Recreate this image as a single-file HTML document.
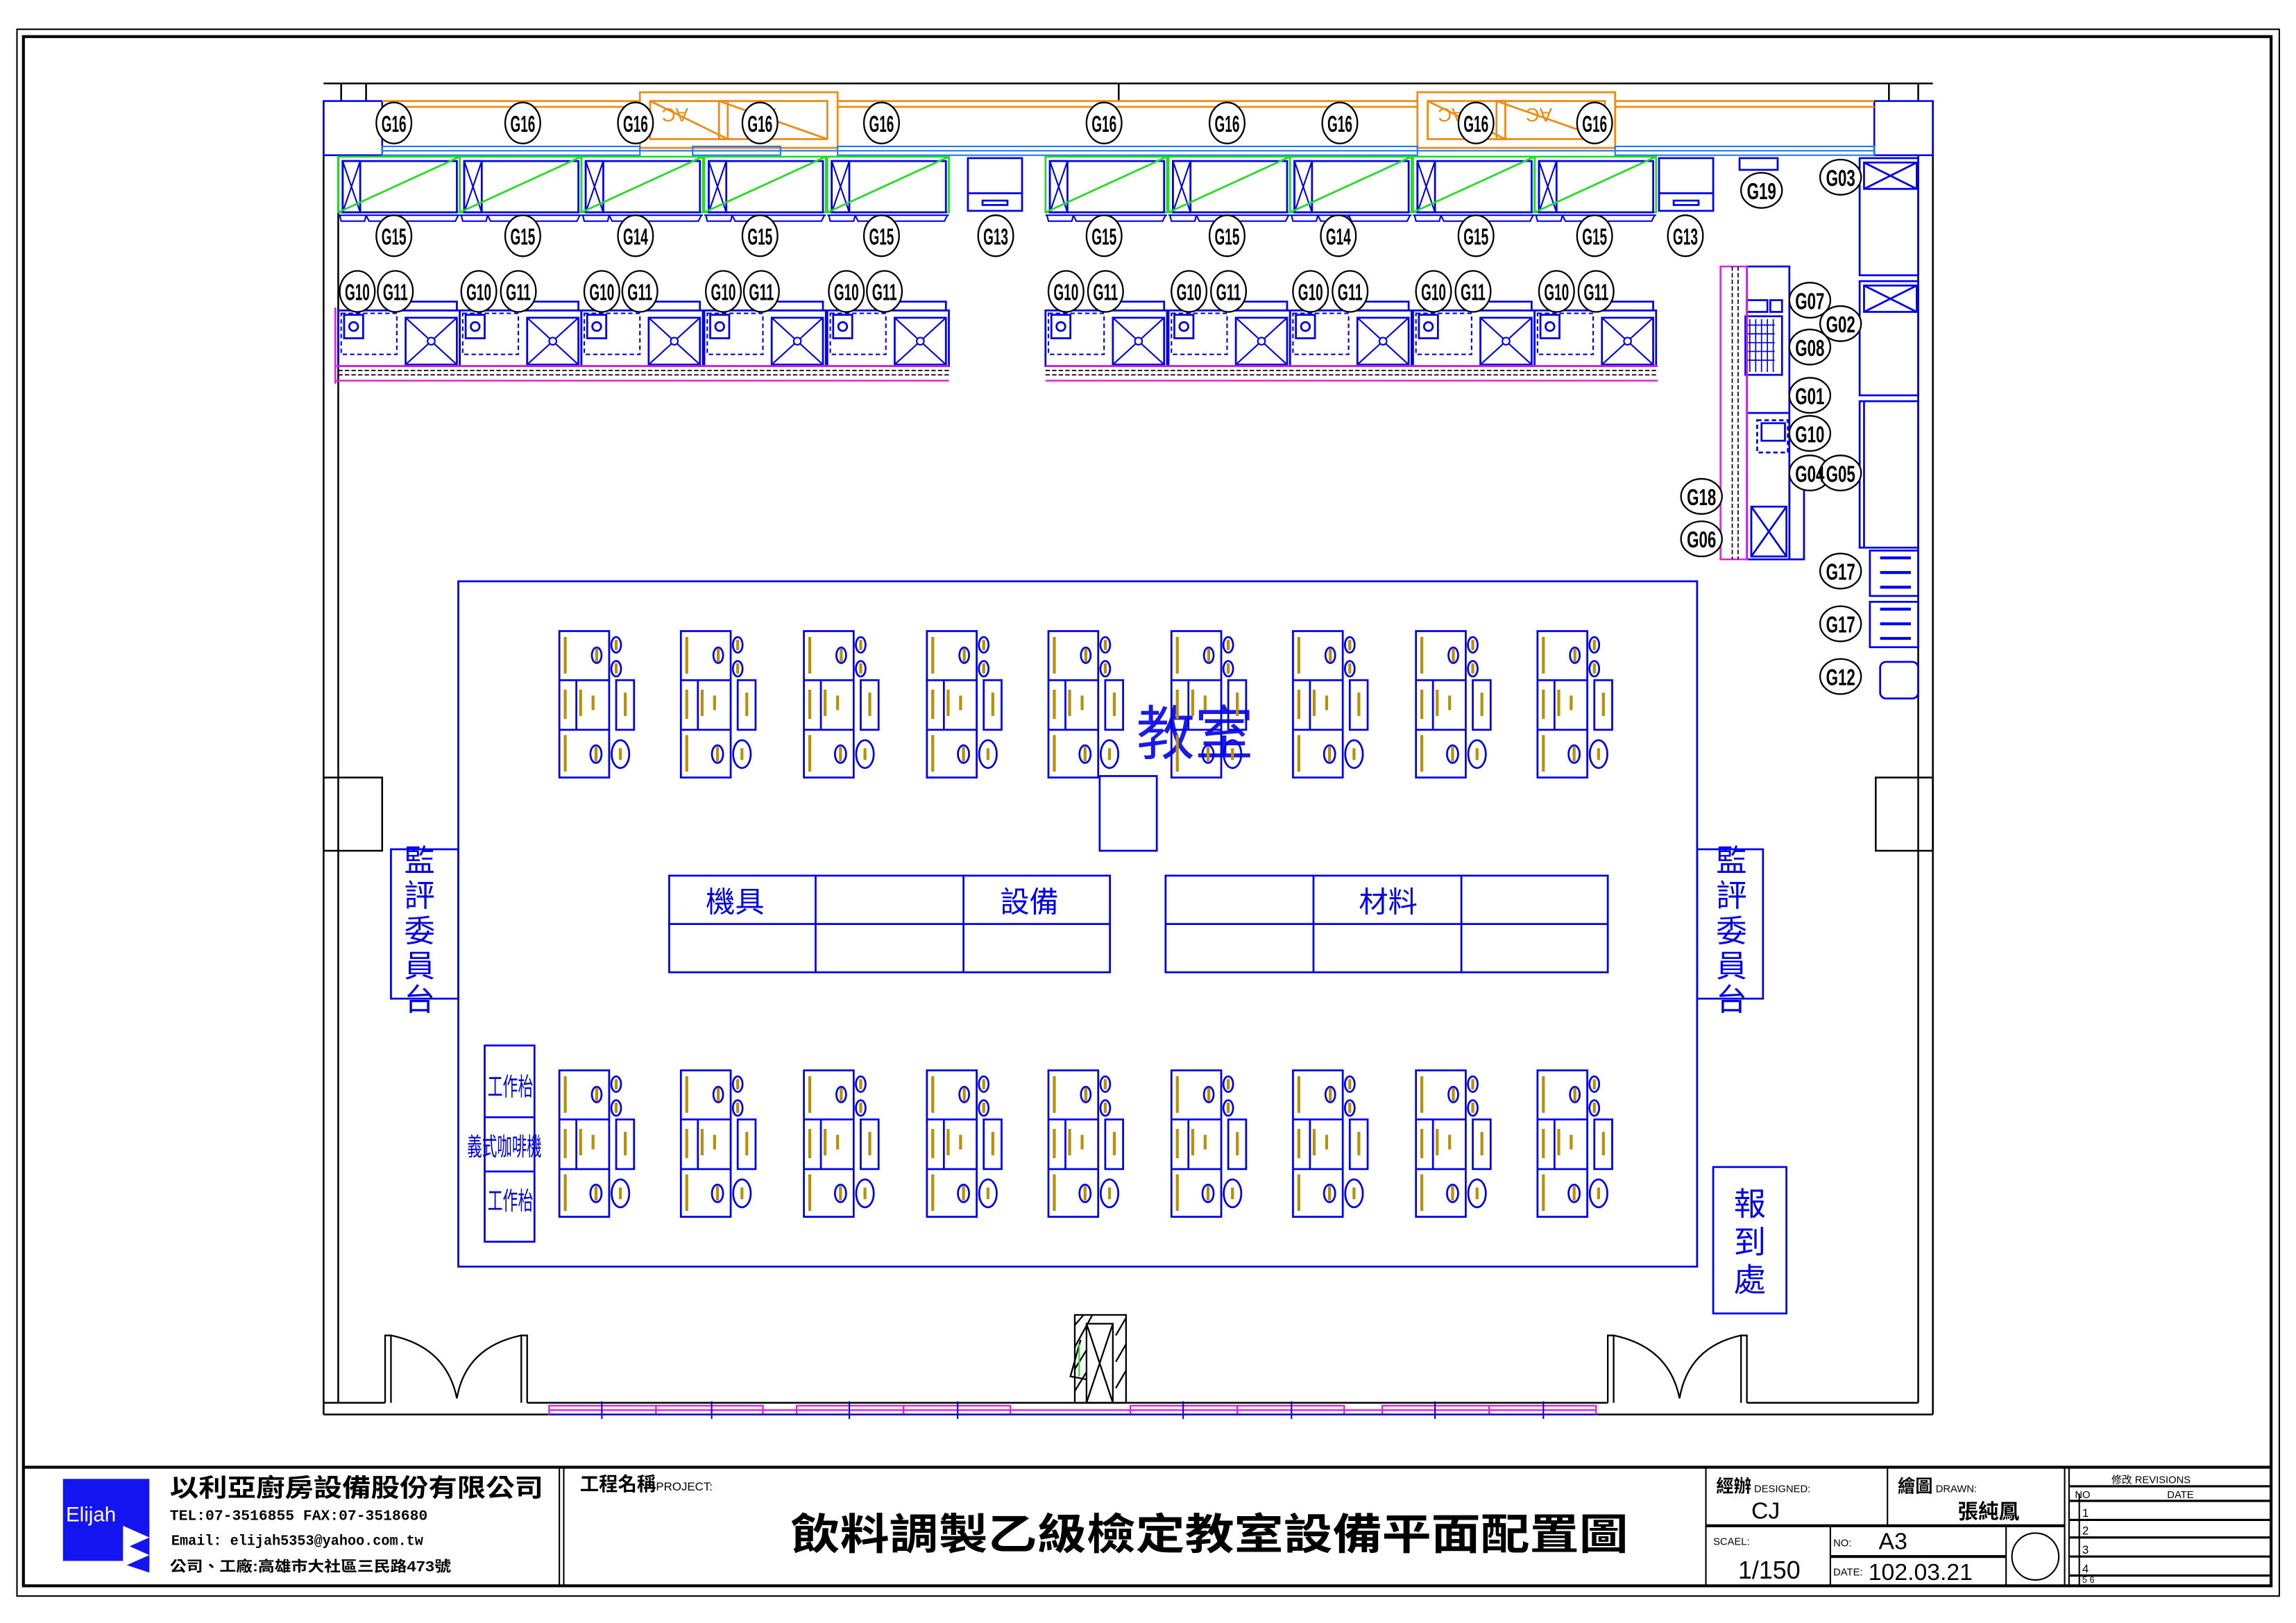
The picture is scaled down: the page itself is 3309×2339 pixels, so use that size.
<!DOCTYPE html>
<html><head><meta charset="utf-8">
<style>
html,body{margin:0;padding:0;background:#fff;}
svg{display:block;}
.lb{font-family:"Liberation Sans",sans-serif;font-weight:bold;font-size:16px;fill:#000;}
.cj{font-family:"Liberation Sans","Noto Sans CJK TC",sans-serif;}
.ga ellipse{rx:12px;ry:14px;}
.gb ellipse{rx:14px;ry:12px;}
</style></head>
<body>
<svg width="3309" height="2339" viewBox="0 0 1568 1108.4" preserveAspectRatio="none" xmlns="http://www.w3.org/2000/svg">
<defs>
<g id="desk" fill="none" stroke="#0000ee" stroke-width="1.3">
  <rect x="0" y="0" width="34" height="100"/>
  <line x1="0" y1="33.5" x2="34" y2="33.5"/>
  <line x1="0" y1="67.4" x2="34" y2="67.4"/>
  <line x1="11.6" y1="33.5" x2="11.6" y2="67.4"/>
  <ellipse cx="38.8" cy="9.4" rx="3.3" ry="5.3"/>
  <ellipse cx="38.8" cy="25.7" rx="3.3" ry="5.3"/>
  <ellipse cx="25.5" cy="16.5" rx="3.3" ry="5.3"/>
  <rect x="38.8" y="33.5" width="12.2" height="33.9"/>
  <ellipse cx="41.7" cy="84" rx="6" ry="9.5"/>
  <ellipse cx="25" cy="84" rx="3.8" ry="6"/>
  <g stroke="none" fill="#b8900a">
    <rect x="3" y="4" width="2" height="25"/>
    <rect x="24.5" y="12" width="2" height="9"/>
    <rect x="37.8" y="6" width="2" height="7"/>
    <rect x="37.8" y="22" width="2" height="7"/>
    <rect x="3" y="40" width="2" height="20"/>
    <rect x="13.5" y="40" width="2" height="18"/>
    <rect x="22" y="44" width="2" height="10"/>
    <rect x="44" y="42" width="2" height="16"/>
    <rect x="3" y="71" width="2" height="25"/>
    <rect x="24" y="79" width="2" height="10"/>
    <rect x="40.7" y="80" width="2" height="8"/>
  </g>
</g>
<g id="top" fill="none">
  <rect x="0" y="0" width="83" height="38" stroke="#22dd22" stroke-width="1.3"/>
  <rect x="3" y="3" width="78" height="35" stroke="#0000ee" stroke-width="1.3"/>
  <rect x="3" y="3" width="12" height="35" stroke="#0000ee" stroke-width="1.3"/>
  <path d="M3 3 L15 38 M15 3 L3 38" stroke="#0000ee" stroke-width="1"/>
  <line x1="0" y1="38" x2="83" y2="0" stroke="#22dd22" stroke-width="1.3"/>
  <path d="M0 40 H83 M1 40 L2 44 H18 L19 40 M19 40 L21 44 H38 L40 40 M40 40 L42 44 H80 L82 40" stroke="#0000ee" stroke-width="1"/>
</g>
<g id="low" fill="none" stroke="#0000ee">
  <rect x="0" y="0" width="83" height="38" stroke-width="1.3"/>
  <rect x="44" y="-6" width="37" height="6" stroke-width="1.3"/>
  <rect x="2" y="2" width="38" height="28" stroke-dasharray="3 2" stroke-width="1"/>
  <rect x="4" y="3" width="13" height="16" stroke-width="1.3"/>
  <circle cx="10.5" cy="11" r="3" stroke-width="1.3"/>
  <rect x="46" y="5" width="35" height="32" stroke-width="1.3"/>
  <path d="M46 5 L81 37 M81 5 L46 37" stroke-width="1"/>
  <circle cx="63.5" cy="21" r="2.5" fill="#fff"/>
</g>
</defs>

<rect x="11.6" y="20" width="1545" height="1070" fill="none" stroke="#000" stroke-width="1"/>
<rect x="16" y="25" width="1535" height="1058" fill="none" stroke="#000" stroke-width="2"/>

<g fill="none" stroke="#000" stroke-width="1.2">
  <line x1="221" y1="57" x2="1320" y2="57"/>
  <line x1="221" y1="69" x2="221" y2="966"/>
  <line x1="231" y1="106" x2="231" y2="958"/>
  <line x1="1320" y1="69" x2="1320" y2="966"/>
  <line x1="1310" y1="106" x2="1310" y2="958"/>
  <line x1="233" y1="57" x2="233" y2="69"/><line x1="250" y1="57" x2="250" y2="69"/>
  <line x1="764" y1="57" x2="764" y2="69"/>
  <line x1="1290" y1="57" x2="1290" y2="69"/><line x1="1310" y1="57" x2="1310" y2="69"/>
  <line x1="221" y1="966" x2="1320" y2="966"/>
  <line x1="221" y1="958" x2="263" y2="958"/>
  <line x1="360" y1="958" x2="1098" y2="958"/>
  <line x1="1193" y1="958" x2="1310" y2="958"/>
  <rect x="221" y="531" width="40" height="50"/>
  <rect x="1281" y="531" width="39" height="50"/>
</g>
<g fill="none" stroke="#0000ee" stroke-width="1.2">
  <rect x="221" y="69" width="40" height="37"/>
  <rect x="1280" y="69" width="40" height="37"/>
</g>
<g fill="none" stroke="#f08a10" stroke-width="1.3">
  <line x1="261" y1="69" x2="437" y2="69"/><line x1="261" y1="73" x2="437" y2="73"/>
  <line x1="572" y1="69" x2="968" y2="69"/><line x1="572" y1="73" x2="968" y2="73"/>
  <line x1="1103" y1="69" x2="1280" y2="69"/><line x1="1103" y1="73" x2="1280" y2="73"/>
  <rect x="437" y="63" width="135" height="38"/>
  <rect x="444" y="69" width="53" height="26"/><line x1="444" y1="69" x2="497" y2="95"/>
  <rect x="491" y="69" width="74" height="26"/><line x1="491" y1="69" x2="565" y2="95"/>
  <rect x="968" y="63" width="135" height="38"/>
  <rect x="975" y="69" width="53" height="26"/><line x1="975" y1="69" x2="1028" y2="95"/>
  <rect x="1022" y="69" width="74" height="26"/><line x1="1022" y1="69" x2="1096" y2="95"/>
  <text x="470" y="82" font-size="13" fill="#f08a10" stroke="none" font-family="Liberation Sans" transform="rotate(180 470 78)">AC</text>
  <text x="530" y="82" font-size="13" fill="#f08a10" stroke="none" font-family="Liberation Sans" transform="rotate(180 530 78)">AC</text>
  <text x="1000" y="82" font-size="13" fill="#f08a10" stroke="none" font-family="Liberation Sans" transform="rotate(180 1000 78)">AC</text>
  <text x="1060" y="82" font-size="13" fill="#f08a10" stroke="none" font-family="Liberation Sans" transform="rotate(180 1060 78)">AC</text>
</g>
<g fill="none" stroke="#1e78ff" stroke-width="1">
  <rect x="261" y="100" width="176" height="6"/><rect x="572" y="100" width="396" height="6"/><rect x="1103" y="100" width="177" height="6"/>
  <rect x="473" y="100" width="60" height="6"/>
  <line x1="261" y1="103" x2="1280" y2="103"/>
</g>
<use href="#top" x="231" y="107"/><use href="#top" x="314" y="107"/><use href="#top" x="397" y="107"/><use href="#top" x="481" y="107"/><use href="#top" x="565" y="107"/>
<use href="#top" x="714" y="107"/><use href="#top" x="798" y="107"/><use href="#top" x="881" y="107"/><use href="#top" x="965" y="107"/><use href="#top" x="1048" y="107"/>
<g fill="none" stroke="#0000ee" stroke-width="1.3">
  <rect x="661" y="108" width="37" height="36"/><line x1="661" y1="132" x2="698" y2="132"/><rect x="671" y="137" width="17" height="3"/>
  <rect x="1133" y="108" width="37" height="36"/><line x1="1133" y1="132" x2="1170" y2="132"/><rect x="1143" y="137" width="17" height="3"/>
  <rect x="1188" y="108" width="26" height="8"/>
</g>
<use href="#low" x="231" y="212"/><use href="#low" x="314" y="212"/><use href="#low" x="397" y="212"/><use href="#low" x="481" y="212"/><use href="#low" x="565" y="212"/>
<use href="#low" x="714" y="212"/><use href="#low" x="798" y="212"/><use href="#low" x="881" y="212"/><use href="#low" x="965" y="212"/><use href="#low" x="1048" y="212"/>
<g fill="none" stroke-width="1.2">
  <line x1="229" y1="250" x2="648" y2="250" stroke="#dd22dd"/><line x1="229" y1="260" x2="648" y2="260" stroke="#dd22dd"/><line x1="229" y1="210" x2="229" y2="262" stroke="#dd22dd"/>
  <line x1="231" y1="253" x2="648" y2="253" stroke="#000" stroke-dasharray="3 1.5" stroke-width="0.8"/><line x1="231" y1="256" x2="648" y2="256" stroke="#000" stroke-dasharray="3 1.5" stroke-width="0.8"/>
  <line x1="714" y1="250" x2="1132" y2="250" stroke="#dd22dd"/><line x1="714" y1="260" x2="1132" y2="260" stroke="#dd22dd"/>
  <line x1="714" y1="253" x2="1132" y2="253" stroke="#000" stroke-dasharray="3 1.5" stroke-width="0.8"/><line x1="714" y1="256" x2="1132" y2="256" stroke="#000" stroke-dasharray="3 1.5" stroke-width="0.8"/>
</g>
<g fill="none" stroke="#0000ee" stroke-width="1.3">
  <rect x="1270" y="108" width="40" height="80"/><rect x="1273" y="111" width="36" height="18"/><path d="M1273 111 L1309 129 M1309 111 L1273 129"/>
  <rect x="1270" y="192" width="40" height="78"/><rect x="1273" y="195" width="36" height="18"/><path d="M1273 195 L1309 213 M1309 195 L1273 213"/>
  <rect x="1270" y="274" width="40" height="100"/><line x1="1273" y1="274" x2="1273" y2="374"/>
  <rect x="1193" y="182" width="29" height="200"/><line x1="1193" y1="282" x2="1222" y2="282"/>
  <rect x="1192" y="216" width="25" height="40"/>
  <path d="M1195 218 V254 M1199 218 V254 M1203 218 V254 M1207 218 V254 M1211 218 V254 M1192 222 H1212 M1192 228 H1212 M1192 234 H1212 M1192 240 H1212 M1192 246 H1212" stroke-width="0.8"/>
  <rect x="1193" y="205" width="14" height="8"/><rect x="1209" y="205" width="8" height="8"/>
  <rect x="1200" y="287" width="21" height="22" stroke-dasharray="3 2"/><rect x="1203" y="289" width="16" height="12"/>
  <rect x="1196" y="346" width="24" height="34"/><path d="M1196 346 L1220 380 M1220 346 L1196 380"/>
  <rect x="1222" y="325" width="10" height="57"/>
  <rect x="1277" y="376" width="33" height="31"/><rect x="1277" y="411" width="33" height="31"/>
  <path d="M1284 381 H1305 M1284 391 H1305 M1284 401 H1305 M1284 416 H1305 M1284 426 H1305 M1284 436 H1305" stroke-width="2"/>
  <rect x="1284" y="452" width="26" height="25" rx="4"/>
</g>
<g fill="none" stroke="#dd22dd" stroke-width="1.2"><rect x="1175" y="182" width="18" height="200"/></g>
<g stroke="#000" stroke-width="0.8" stroke-dasharray="3 1.5"><line x1="1183" y1="182" x2="1183" y2="382"/><line x1="1187" y1="182" x2="1187" y2="382"/></g>

<g fill="none" stroke="#0000ee" stroke-width="1.3">
  <rect x="313" y="397" width="846" height="468"/>
  <rect x="751" y="530" width="39" height="51"/>
  <rect x="267" y="580" width="46" height="102"/>
  <rect x="1159" y="580" width="45" height="102"/>
  <rect x="331" y="714" width="34" height="134"/><line x1="331" y1="763" x2="365" y2="763"/><line x1="331" y1="800" x2="365" y2="800"/>
  <rect x="1170" y="797" width="50" height="100"/>
  <rect x="457" y="598" width="301" height="66"/><line x1="457" y1="631" x2="758" y2="631"/><line x1="557" y1="598" x2="557" y2="664"/><line x1="658" y1="598" x2="658" y2="664"/>
  <rect x="796" y="598" width="302" height="66"/><line x1="796" y1="631" x2="1098" y2="631"/><line x1="897" y1="598" x2="897" y2="664"/><line x1="998" y1="598" x2="998" y2="664"/>
</g>
<g class="cj" fill="#0000ee" font-size="20">
  <text x="482" y="623">機具</text><text x="683" y="623">設備</text><text x="928" y="623">材料</text>
  <text x="776" y="515" font-size="40" fill="#1a1ae8">教室</text>
  <text x="276" y="595" font-size="21">監</text><text x="276" y="619" font-size="21">評</text><text x="276" y="643" font-size="21">委</text><text x="276" y="667" font-size="21">員</text><text x="276" y="690" font-size="21">台</text>
  <text x="1172" y="595" font-size="21">監</text><text x="1172" y="619" font-size="21">評</text><text x="1172" y="643" font-size="21">委</text><text x="1172" y="667" font-size="21">員</text><text x="1172" y="690" font-size="21">台</text>
  <text x="1184" y="830" font-size="22">報</text><text x="1184" y="856" font-size="22">到</text><text x="1184" y="882" font-size="22">處</text>
  <text x="333" y="748" font-size="17" textLength="31" lengthAdjust="spacingAndGlyphs">工作枱</text>
  <text x="333" y="826" font-size="17" textLength="31" lengthAdjust="spacingAndGlyphs">工作枱</text>
  <text x="319" y="789" font-size="17" textLength="51" lengthAdjust="spacingAndGlyphs">義式咖啡機</text>
</g>
<use href="#desk" x="382" y="431"/><use href="#desk" x="465" y="431"/><use href="#desk" x="549" y="431"/><use href="#desk" x="633" y="431"/><use href="#desk" x="716" y="431"/><use href="#desk" x="800" y="431"/><use href="#desk" x="883" y="431"/><use href="#desk" x="967" y="431"/><use href="#desk" x="1050" y="431"/>
<use href="#desk" x="382" y="731"/><use href="#desk" x="465" y="731"/><use href="#desk" x="549" y="731"/><use href="#desk" x="633" y="731"/><use href="#desk" x="716" y="731"/><use href="#desk" x="800" y="731"/><use href="#desk" x="883" y="731"/><use href="#desk" x="967" y="731"/><use href="#desk" x="1050" y="731"/>

<g fill="none" stroke="#000" stroke-width="1.1">
  <path d="M263 958 V912 H267 V958 M356 958 V912 H360 V958"/>
  <path d="M267 912 Q305 920 312 955 Q318 920 356 912"/>
  <path d="M1098 958 V912 H1102 V958 M1189 958 V912 H1193 V958"/>
  <path d="M1102 912 Q1140 920 1147 955 Q1153 920 1189 912"/>
  <rect x="734" y="898" width="35" height="60"/><rect x="742" y="904" width="18" height="54"/>
  <path d="M734 905 L740 898 M734 920 L746 898 M734 935 L742 922 M734 950 L742 937 M762 912 L769 900 M762 930 L769 918 M762 948 L769 936 M742 904 L760 958 M760 904 L742 958 M738 915 L731 940 L742 942"/>
</g>
<line x1="737" y1="918" x2="737" y2="940" stroke="#22dd22"/>
<g fill="none" stroke="#dd22dd" stroke-width="1.1">
  <rect x="375" y="960" width="73" height="6"/><rect x="448" y="960" width="73" height="6"/><rect x="544" y="960" width="73" height="6"/><rect x="617" y="960" width="73" height="6"/>
  <rect x="772" y="960" width="73" height="6"/><rect x="845" y="960" width="73" height="6"/><rect x="944" y="960" width="73" height="6"/><rect x="1017" y="960" width="73" height="6"/>
  <line x1="375" y1="963" x2="1090" y2="963"/>
</g>
<g stroke="#0000ee" stroke-width="1"><line x1="375" y1="966" x2="1090" y2="966"/>
<path d="M411 957 V969 M486 957 V969 M580 957 V969 M654 957 V969 M808 957 V969 M882 957 V969 M980 957 V969 M1054 957 V969"/></g>

<g fill="#fff" stroke="#000" stroke-width="1.1" class="ga">
<ellipse cx="269" cy="84" rx="12" ry="14"/><ellipse cx="357" cy="84" rx="12" ry="14"/><ellipse cx="434" cy="84" rx="12" ry="14"/><ellipse cx="519" cy="84" rx="12" ry="14"/><ellipse cx="602" cy="84" rx="12" ry="14"/><ellipse cx="754" cy="84" rx="12" ry="14"/><ellipse cx="838" cy="84" rx="12" ry="14"/><ellipse cx="915" cy="84" rx="12" ry="14"/><ellipse cx="1008" cy="84" rx="12" ry="14"/><ellipse cx="1089" cy="84" rx="12" ry="14"/>
<ellipse cx="269" cy="161" rx="12" ry="14"/><ellipse cx="357" cy="161" rx="12" ry="14"/><ellipse cx="434" cy="161" rx="12" ry="14"/><ellipse cx="519" cy="161" rx="12" ry="14"/><ellipse cx="602" cy="161" rx="12" ry="14"/><ellipse cx="680" cy="161" rx="12" ry="14"/><ellipse cx="754" cy="161" rx="12" ry="14"/><ellipse cx="838" cy="161" rx="12" ry="14"/><ellipse cx="914" cy="161" rx="12" ry="14"/><ellipse cx="1008" cy="161" rx="12" ry="14"/><ellipse cx="1089" cy="161" rx="12" ry="14"/><ellipse cx="1151" cy="161" rx="12" ry="14"/>
<ellipse cx="244" cy="199" rx="12" ry="14"/><ellipse cx="270" cy="199" rx="12" ry="14"/><ellipse cx="327" cy="199" rx="12" ry="14"/><ellipse cx="354" cy="199" rx="12" ry="14"/><ellipse cx="411" cy="199" rx="12" ry="14"/><ellipse cx="437" cy="199" rx="12" ry="14"/><ellipse cx="494" cy="199" rx="12" ry="14"/><ellipse cx="520" cy="199" rx="12" ry="14"/><ellipse cx="578" cy="199" rx="12" ry="14"/><ellipse cx="604" cy="199" rx="12" ry="14"/>
<ellipse cx="728" cy="199" rx="12" ry="14"/><ellipse cx="755" cy="199" rx="12" ry="14"/><ellipse cx="812" cy="199" rx="12" ry="14"/><ellipse cx="839" cy="199" rx="12" ry="14"/><ellipse cx="895" cy="199" rx="12" ry="14"/><ellipse cx="922" cy="199" rx="12" ry="14"/><ellipse cx="979" cy="199" rx="12" ry="14"/><ellipse cx="1006" cy="199" rx="12" ry="14"/><ellipse cx="1063" cy="199" rx="12" ry="14"/><ellipse cx="1090" cy="199" rx="12" ry="14"/>
</g>
<g fill="#fff" stroke="#000" stroke-width="1.1" class="gb">
<ellipse cx="1257" cy="121" rx="14" ry="12"/><ellipse cx="1203" cy="130" rx="14" ry="12"/><ellipse cx="1236" cy="205" rx="14" ry="12"/><ellipse cx="1257" cy="221" rx="14" ry="12"/><ellipse cx="1236" cy="237" rx="14" ry="12"/><ellipse cx="1236" cy="270" rx="14" ry="12"/><ellipse cx="1236" cy="296" rx="14" ry="12"/><ellipse cx="1236" cy="323" rx="14" ry="12"/><ellipse cx="1257" cy="323" rx="14" ry="12"/><ellipse cx="1162" cy="339" rx="14" ry="12"/><ellipse cx="1162" cy="368" rx="14" ry="12"/><ellipse cx="1257" cy="390" rx="14" ry="12"/><ellipse cx="1257" cy="426" rx="14" ry="12"/><ellipse cx="1257" cy="462" rx="14" ry="12"/>
</g>
<g class="lb" text-anchor="middle">
<text x="269" y="90" textLength="17" lengthAdjust="spacingAndGlyphs">G16</text><text x="357" y="90" textLength="17" lengthAdjust="spacingAndGlyphs">G16</text><text x="434" y="90" textLength="17" lengthAdjust="spacingAndGlyphs">G16</text><text x="519" y="90" textLength="17" lengthAdjust="spacingAndGlyphs">G16</text><text x="602" y="90" textLength="17" lengthAdjust="spacingAndGlyphs">G16</text><text x="754" y="90" textLength="17" lengthAdjust="spacingAndGlyphs">G16</text><text x="838" y="90" textLength="17" lengthAdjust="spacingAndGlyphs">G16</text><text x="915" y="90" textLength="17" lengthAdjust="spacingAndGlyphs">G16</text><text x="1008" y="90" textLength="17" lengthAdjust="spacingAndGlyphs">G16</text><text x="1089" y="90" textLength="17" lengthAdjust="spacingAndGlyphs">G16</text>
<text x="269" y="167" textLength="17" lengthAdjust="spacingAndGlyphs">G15</text><text x="357" y="167" textLength="17" lengthAdjust="spacingAndGlyphs">G15</text><text x="434" y="167" textLength="17" lengthAdjust="spacingAndGlyphs">G14</text><text x="519" y="167" textLength="17" lengthAdjust="spacingAndGlyphs">G15</text><text x="602" y="167" textLength="17" lengthAdjust="spacingAndGlyphs">G15</text><text x="680" y="167" textLength="17" lengthAdjust="spacingAndGlyphs">G13</text><text x="754" y="167" textLength="17" lengthAdjust="spacingAndGlyphs">G15</text><text x="838" y="167" textLength="17" lengthAdjust="spacingAndGlyphs">G15</text><text x="914" y="167" textLength="17" lengthAdjust="spacingAndGlyphs">G14</text><text x="1008" y="167" textLength="17" lengthAdjust="spacingAndGlyphs">G15</text><text x="1089" y="167" textLength="17" lengthAdjust="spacingAndGlyphs">G15</text><text x="1151" y="167" textLength="17" lengthAdjust="spacingAndGlyphs">G13</text>
<text x="244" y="205" textLength="17" lengthAdjust="spacingAndGlyphs">G10</text><text x="270" y="205" textLength="17" lengthAdjust="spacingAndGlyphs">G11</text><text x="327" y="205" textLength="17" lengthAdjust="spacingAndGlyphs">G10</text><text x="354" y="205" textLength="17" lengthAdjust="spacingAndGlyphs">G11</text><text x="411" y="205" textLength="17" lengthAdjust="spacingAndGlyphs">G10</text><text x="437" y="205" textLength="17" lengthAdjust="spacingAndGlyphs">G11</text><text x="494" y="205" textLength="17" lengthAdjust="spacingAndGlyphs">G10</text><text x="520" y="205" textLength="17" lengthAdjust="spacingAndGlyphs">G11</text><text x="578" y="205" textLength="17" lengthAdjust="spacingAndGlyphs">G10</text><text x="604" y="205" textLength="17" lengthAdjust="spacingAndGlyphs">G11</text>
<text x="728" y="205" textLength="17" lengthAdjust="spacingAndGlyphs">G10</text><text x="755" y="205" textLength="17" lengthAdjust="spacingAndGlyphs">G11</text><text x="812" y="205" textLength="17" lengthAdjust="spacingAndGlyphs">G10</text><text x="839" y="205" textLength="17" lengthAdjust="spacingAndGlyphs">G11</text><text x="895" y="205" textLength="17" lengthAdjust="spacingAndGlyphs">G10</text><text x="922" y="205" textLength="17" lengthAdjust="spacingAndGlyphs">G11</text><text x="979" y="205" textLength="17" lengthAdjust="spacingAndGlyphs">G10</text><text x="1006" y="205" textLength="17" lengthAdjust="spacingAndGlyphs">G11</text><text x="1063" y="205" textLength="17" lengthAdjust="spacingAndGlyphs">G10</text><text x="1090" y="205" textLength="17" lengthAdjust="spacingAndGlyphs">G11</text>
<text x="1257" y="127" textLength="20" lengthAdjust="spacingAndGlyphs">G03</text><text x="1203" y="136" textLength="20" lengthAdjust="spacingAndGlyphs">G19</text><text x="1236" y="211" textLength="20" lengthAdjust="spacingAndGlyphs">G07</text><text x="1257" y="227" textLength="20" lengthAdjust="spacingAndGlyphs">G02</text><text x="1236" y="243" textLength="20" lengthAdjust="spacingAndGlyphs">G08</text><text x="1236" y="276" textLength="20" lengthAdjust="spacingAndGlyphs">G01</text><text x="1236" y="302" textLength="20" lengthAdjust="spacingAndGlyphs">G10</text><text x="1236" y="329" textLength="20" lengthAdjust="spacingAndGlyphs">G04</text><text x="1257" y="329" textLength="20" lengthAdjust="spacingAndGlyphs">G05</text><text x="1162" y="345" textLength="20" lengthAdjust="spacingAndGlyphs">G18</text><text x="1162" y="374" textLength="20" lengthAdjust="spacingAndGlyphs">G06</text><text x="1257" y="396" textLength="20" lengthAdjust="spacingAndGlyphs">G17</text><text x="1257" y="432" textLength="20" lengthAdjust="spacingAndGlyphs">G17</text><text x="1257" y="468" textLength="20" lengthAdjust="spacingAndGlyphs">G12</text>
</g>

<g fill="none" stroke="#000">
  <line x1="16" y1="1002" x2="1551" y2="1002" stroke-width="2"/>
  <line x1="382" y1="1002" x2="382" y2="1083" stroke-width="1"/><line x1="385" y1="1002" x2="385" y2="1083" stroke-width="1"/>
  <line x1="1165" y1="1002" x2="1165" y2="1083" stroke-width="1"/>
  <line x1="1289" y1="1002" x2="1289" y2="1042" stroke-width="1"/>
  <line x1="1165" y1="1042" x2="1410" y2="1042" stroke-width="2"/>
  <line x1="1250" y1="1042" x2="1250" y2="1083" stroke-width="1"/>
  <line x1="1250" y1="1063" x2="1370" y2="1063" stroke-width="2"/>
  <line x1="1370" y1="1042" x2="1370" y2="1083" stroke-width="1"/>
  <circle cx="1390" cy="1063" r="16" stroke-width="1"/>
  <line x1="1410" y1="1002" x2="1410" y2="1083" stroke-width="1"/><line x1="1413" y1="1002" x2="1413" y2="1083" stroke-width="1"/>
  <line x1="1420" y1="1020" x2="1420" y2="1083" stroke-width="1"/>
  <line x1="1413" y1="1015" x2="1551" y2="1015" stroke-width="1.5"/>
  <line x1="1413" y1="1025" x2="1551" y2="1025" stroke-width="1.5"/>
  <line x1="1413" y1="1038" x2="1551" y2="1038" stroke-width="1.5"/>
  <line x1="1413" y1="1050" x2="1551" y2="1050" stroke-width="1.5"/>
  <line x1="1413" y1="1063" x2="1551" y2="1063" stroke-width="1.5"/>
  <line x1="1413" y1="1076" x2="1551" y2="1076" stroke-width="1.5"/>
</g>
<rect x="43" y="1010" width="59" height="56" fill="#1414f0"/>
<path d="M84 1045 L102 1040 V1048 L84 1053 Z M84 1055 L102 1050 V1058 L84 1063 Z M84 1065 L102 1060 V1074 L84 1068 Z" fill="#1414f0"/>
<path d="M84 1042 L102 1050 L84 1058 Z M84 1054 L102 1062 L84 1070 Z" fill="#fff"/>
<text x="45" y="1039" font-family="Liberation Sans" font-size="14" fill="#fff">Elijah</text>
<g class="cj" fill="#000">
  <text x="116" y="1022" font-size="17" font-weight="bold" textLength="255" lengthAdjust="spacingAndGlyphs">以利亞廚房設備股份有限公司</text>
  <text x="116" y="1038" font-family="Liberation Mono" font-size="10" font-weight="bold" textLength="176" lengthAdjust="spacingAndGlyphs">TEL:07-3516855   FAX:07-3518680</text>
  <text x="117" y="1055" font-family="Liberation Mono" font-size="10" font-weight="bold" textLength="172" lengthAdjust="spacingAndGlyphs">Email: elijah5353@yahoo.com.tw</text>
  <text x="116" y="1073" font-size="10" font-weight="bold" textLength="192" lengthAdjust="spacingAndGlyphs">公司、工廠:高雄市大社區三民路473號</text>
  <text x="396" y="1018" font-size="13" font-weight="bold">工程名稱<tspan font-size="8" font-weight="normal">PROJECT:</tspan></text>
  <text x="540" y="1058" font-size="29" font-weight="bold" textLength="572" lengthAdjust="spacingAndGlyphs">飲料調製乙級檢定教室設備平面配置圖</text>
  <text x="1172" y="1019" font-size="12" font-weight="bold">經辦<tspan font-size="7" font-weight="normal"> DESIGNED:</tspan></text>
  <text x="1196" y="1037" font-size="16" font-family="Liberation Sans">CJ</text>
  <text x="1296" y="1019" font-size="12" font-weight="bold">繪圖<tspan font-size="7" font-weight="normal"> DRAWN:</tspan></text>
  <text x="1337" y="1037" font-size="14" font-weight="bold">張純鳳</text>
  <text x="1170" y="1055" font-size="7">SCAEL:</text>
  <text x="1187" y="1078" font-size="17" font-family="Liberation Sans">1/150</text>
  <text x="1252" y="1056" font-size="7">NO:</text>
  <text x="1283" y="1058" font-size="16" font-family="Liberation Sans">A3</text>
  <text x="1252" y="1076" font-size="7">DATE:</text>
  <text x="1276" y="1079" font-size="16" font-family="Liberation Sans">102.03.21</text>
  <text x="1442" y="1013" font-size="7">修改 REVISIONS</text>
  <text x="1417" y="1023" font-size="7">NO</text><text x="1480" y="1023" font-size="7">DATE</text>
  <text x="1422" y="1036" font-size="8">1</text><text x="1422" y="1048" font-size="8">2</text><text x="1422" y="1061" font-size="8">3</text>
  <text x="1422" y="1074" font-size="8">4</text><text x="1422" y="1081" font-size="6">5 6</text>
</g>
</svg>
</body></html>
